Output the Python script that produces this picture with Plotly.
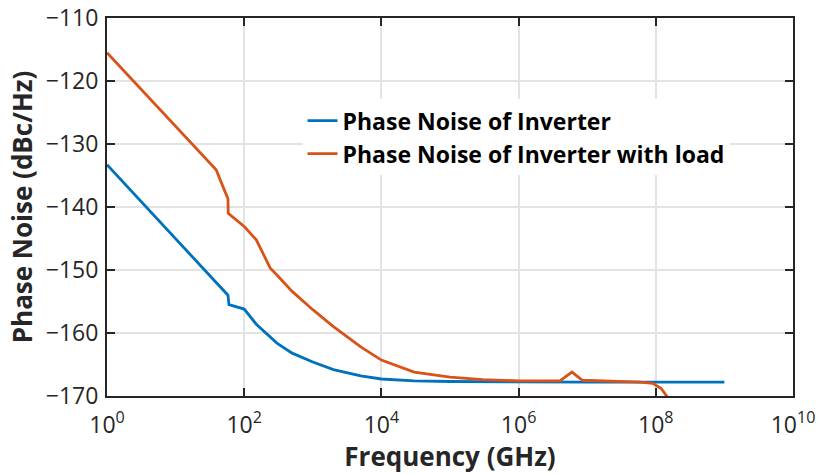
import plotly.graph_objects as go

# Data (frequency in GHz, phase noise in dBc/Hz)
inv_f = [1, 10, 58, 60, 100, 150, 200, 300, 500, 1000, 2000, 5000, 1e4, 3e4, 1e5, 1e6, 1e7, 1e8, 1e9]
inv_pn = [-133.3, -145.0, -154.0, -155.5, -156.2, -158.6, -159.8, -161.6, -163.2, -164.6, -165.8, -166.8,
          -167.3, -167.6, -167.7, -167.8, -167.8, -167.8, -167.8]

load_f = [1, 39, 50, 58, 58.5, 100, 150, 240, 300, 500, 1000, 2000, 5000, 1e4, 3e4, 1e5, 3e5, 1e6,
          4e6, 6e6, 8.5e6, 2e7, 6e7, 9e7, 1.2e8, 1.5e8]
load_pn = [-115.5, -134.1, -137.0, -138.7, -141.0, -143.1, -145.2, -149.7, -150.8, -153.4, -156.3, -159.0,
           -162.2, -164.3, -166.2, -167.0, -167.4, -167.6, -167.6, -166.2, -167.5, -167.6, -167.8, -168.0,
           -168.8, -170.3]

tick_vals = [1, 1e2, 1e4, 1e6, 1e8, 1e10]
tick_text = ["10<sup>0</sup>", "10<sup>2</sup>", "10<sup>4</sup>", "10<sup>6</sup>", "10<sup>8</sup>", "10<sup>10</sup>"]
y_ticks = [-170, -160, -150, -140, -130, -120, -110]

names = ["Phase Noise of Inverter", "Phase Noise of Inverter with load"]
colors = ["#0072BD", "#D95319"]

fig = go.Figure()
fig.add_trace(go.Scatter(x=inv_f, y=inv_pn, mode="lines", name=names[0],
                         line=dict(color=colors[0], width=2.8)))
fig.add_trace(go.Scatter(x=load_f, y=load_pn, mode="lines", name=names[1],
                         line=dict(color=colors[1], width=2.8)))

axis_color = "#262626"
font_family = "Open Sans, DejaVu Sans, sans-serif"

fig.update_layout(
    width=821, height=474,
    margin=dict(l=107, r=28, t=18, b=78, autoexpand=False),
    paper_bgcolor="white", plot_bgcolor="white",
    font=dict(family=font_family, color=axis_color, size=20),
    showlegend=True,
    legend=dict(x=0.285, y=0.785, xanchor="left", yanchor="top",
                bgcolor="white", borderwidth=0,
                font=dict(family=font_family, size=23, color="black", weight="bold"),
                tracegroupgap=0, itemwidth=30),
    xaxis=dict(type="log", range=[0, 10], tickvals=tick_vals, ticktext=tick_text,
               automargin=False,
               showgrid=True, gridcolor="#e3e3e3", gridwidth=1.5,
               showline=True, linecolor=axis_color, linewidth=2, mirror="allticks",
               ticks="inside", ticklen=8, tickwidth=2, tickcolor=axis_color,
               tickfont=dict(size=23, color=axis_color), ticklabelstandoff=7,
               title=dict(text="<b>Frequency (GHz)</b>", font=dict(size=26, color=axis_color), standoff=2),
               zeroline=False),
    yaxis=dict(range=[-170, -110], tickvals=y_ticks,
               automargin=False,
               showgrid=True, gridcolor="#e3e3e3", gridwidth=1.5,
               showline=True, linecolor=axis_color, linewidth=2, mirror="allticks",
               ticks="inside", ticklen=8, tickwidth=2, tickcolor=axis_color,
               tickfont=dict(size=23, color=axis_color), ticklabelstandoff=2,
               title=dict(text="<b>Phase Noise (dBc/Hz)</b>", font=dict(size=26, color=axis_color), standoff=6),
               zeroline=False),
)

fig.write_html("out.html")
